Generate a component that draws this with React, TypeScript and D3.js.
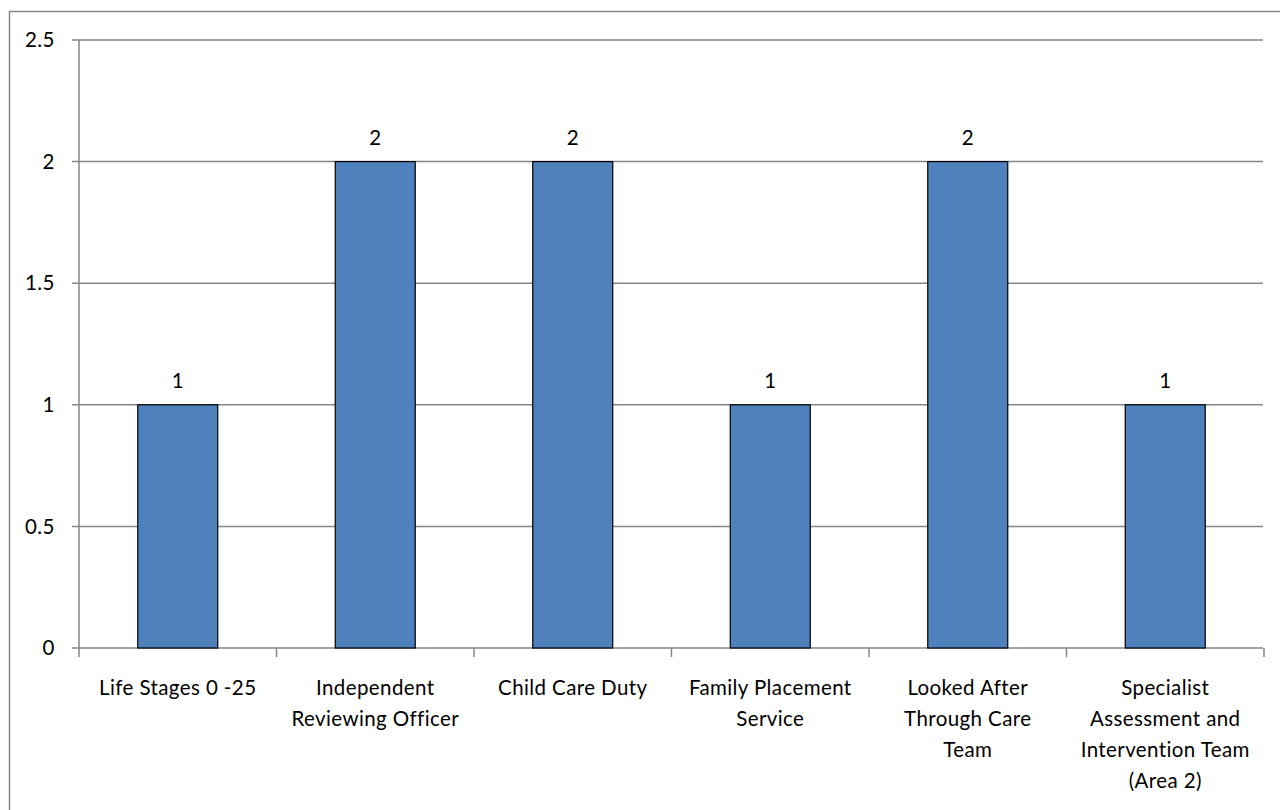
import * as d3 from "d3";

const categories = [
  "Life Stages 0 -25",
  "Independent Reviewing Officer",
  "Child Care Duty",
  "Family Placement Service",
  "Looked After Through Care Team",
  "Specialist Assessment and Intervention Team (Area 2)",
];
const labelLines = [
  ["Life Stages 0 -25"],
  ["Independent", "Reviewing Officer"],
  ["Child Care Duty"],
  ["Family Placement", "Service"],
  ["Looked After", "Through Care", "Team"],
  ["Specialist", "Assessment and", "Intervention Team", "(Area 2)"],
];
const values = [1, 2, 2, 1, 2, 1];
const yTicks = [0, 0.5, 1, 1.5, 2, 2.5];

const W = 1280;
const H = 810;
const left = 79;
const right = 1264;
const top = 40;
const bottom = 648;
const font = "Lato, 'Open Sans', sans-serif";
const fs = 20.5;

export default function App() {
  const x = d3.scaleBand<string>().domain(categories).range([left, right]).padding(0);
  const y = d3.scaleLinear().domain([0, 2.5]).range([bottom, top]);
  const barW = x.bandwidth() * 0.405;
  const grid = "#868686";

  return (
    <svg
      width={W}
      height={H}
      style={{ position: "absolute", left: 0, top: 0 }}
      fontFamily={font}
    >
      <rect x={0} y={0} width={W} height={H} fill="#fff" />
      <rect x={9.5} y={11.5} width={W + 10} height={H + 10} fill="none" stroke={grid} strokeWidth={1.5} />
      {yTicks.map((t) => (
        <g key={t}>
          <line x1={left - 7} x2={right - 1} y1={y(t)} y2={y(t)} stroke={grid} strokeWidth={1.5} />
          <text x={55} y={y(t)} dy="0.35em" textAnchor="end" fontSize={fs} letterSpacing={0.5} fill="#000">
            {t}
          </text>
        </g>
      ))}
      <line x1={left} x2={left} y1={top} y2={bottom} stroke={grid} strokeWidth={1.5} />
      {x.domain().map((c) => (
        <line key={c} x1={x(c)!} x2={x(c)!} y1={bottom} y2={bottom + 9} stroke={grid} strokeWidth={1.5} />
      ))}
      <line x1={right} x2={right} y1={bottom} y2={bottom + 9} stroke={grid} strokeWidth={1.5} />
      {categories.map((c, i) => {
        const cx = x(c)! + x.bandwidth() / 2;
        return (
          <g key={c}>
            <rect
              x={cx - barW / 2}
              y={y(values[i])}
              width={barW}
              height={y(0) - y(values[i])}
              fill="#4F81BD"
              stroke="#000"
              strokeWidth={1.2}
            />
            <text x={cx} y={y(values[i]) - 24} dy="0.35em" textAnchor="middle" fontSize={fs} fill="#000">
              {values[i]}
            </text>
            {labelLines[i].map((ln, j) => (
              <text key={j} x={cx} y={688 + j * 31} dy="0.35em" textAnchor="middle" fontSize={fs} letterSpacing={0.4} fill="#000">
                {ln}
              </text>
            ))}
          </g>
        );
      })}
    </svg>
  );
}
